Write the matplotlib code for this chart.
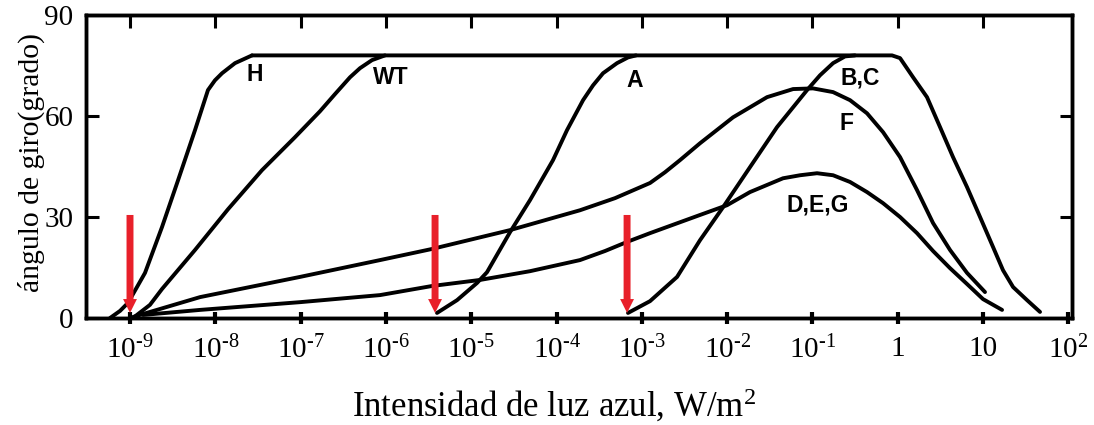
import numpy as np
import matplotlib
matplotlib.use("Agg")
import matplotlib.pyplot as plt

plt.rcParams['font.family'] = ['Liberation Serif', 'DejaVu Serif']
plt.rcParams['mathtext.fontset'] = 'custom'
plt.rcParams['mathtext.rm'] = 'Liberation Serif'
plt.rcParams['mathtext.it'] = 'Liberation Serif:italic'

# curves: log10(intensity in W/m2) and turning angle (deg)
h_logI = [-9.234, -9.117, -9.023, -8.824, -8.625, -8.437, -8.238, -8.086, -8.004, -7.921, -7.769, -7.570]
h_deg = [0.0, 2.1, 4.5, 13.4, 27.0, 40.9, 55.8, 67.7, 70.6, 72.7, 75.7, 78.0]

wt_logI = [-8.965, -8.766, -8.625, -8.238, -7.851, -7.453, -7.066, -6.773, -6.597, -6.421, -6.304, -6.163, -6.011]
wt_deg = [0.0, 3.9, 8.6, 20.2, 32.3, 43.9, 53.7, 61.4, 66.5, 71.5, 74.2, 76.6, 78.0]

a_logI = [-5.401, -5.166, -4.932, -4.815, -4.545, -4.311, -4.041, -3.877, -3.689, -3.572, -3.455, -3.291, -3.162, -3.068]
a_deg = [1.5, 5.3, 10.4, 13.6, 25.5, 35.0, 46.9, 55.8, 64.7, 69.1, 72.7, 75.7, 77.4, 78.0]

bc_logI = [-3.162, -2.904, -2.587, -2.318, -2.048, -1.732, -1.415, -1.063, -0.911, -0.758, -0.618, -0.501]
bc_deg = [1.5, 5.0, 12.2, 23.1, 32.9, 44.8, 56.7, 67.7, 72.1, 75.7, 77.7, 78.0]

# saturation plateau shared by H, WT, A, B,C and its decline at high intensity
top_logI = [-7.570, -0.067, 0.027, 0.180, 0.343, 0.496, 0.648, 0.812, 0.965, 1.117, 1.234, 1.352, 1.516, 1.668]
top_deg = [78.0, 78.0, 77.2, 71.5, 65.6, 56.7, 47.8, 38.9, 30.0, 21.1, 14.2, 9.2, 5.3, 1.8]

f_logI = [-8.965, -8.179, -7.007, -6.069, -5.460, -4.545, -3.725, -3.314, -2.904, -2.728, -2.552, -2.318,
          -1.931, -1.532, -1.227, -0.993, -0.758, -0.559, -0.360, -0.172, 0.027, 0.226, 0.414, 0.613,
          0.812, 1.023]
f_deg = [0.3, 6.2, 12.2, 17.2, 20.5, 26.1, 32.0, 35.6, 40.1, 43.3, 46.9, 51.9,
         59.6, 65.6, 68.0, 68.2, 67.1, 64.7, 60.8, 55.2, 47.8, 38.0, 28.2, 20.2,
         13.4, 7.7]

deg_logI = [-8.848, -8.179, -7.007, -6.069, -5.460, -4.897, -4.311, -3.725, -3.431, -3.173, -2.904, -2.318,
            -2.001, -1.732, -1.345, -1.145, -0.946, -0.758, -0.559, -0.360, -0.172, 0.027, 0.226, 0.414,
            0.613, 0.812, 1.000, 1.223]
deg_deg = [0.9, 2.4, 4.7, 6.8, 9.5, 11.3, 13.9, 17.2, 19.9, 22.6, 25.2, 30.6,
           33.5, 37.4, 41.5, 42.4, 43.0, 42.4, 40.4, 37.4, 34.1, 30.0, 25.2, 19.9,
           14.8, 10.1, 5.6, 2.4]

curve_labels = ['H', 'WT', 'A', 'B,C', 'F', 'D,E,G']
label_logI = [-7.535, -5.94, -3.08, -0.442, -0.606, -0.934]
label_deg = [72.4, 71.5, 70.6, 71.2, 57.9, 33.5]

arrow_logI = [-9.0, -5.424, -3.173]
arrow_top, arrow_tip = 30.6, 1.5

xtick_exp = [-9, -8, -7, -6, -5, -4, -3, -2, -1, 0, 1, 2]
xtick_text = [r'$10^{\text{-9}}$', r'$10^{\text{-8}}$', r'$10^{\text{-7}}$', r'$10^{\text{-6}}$',
              r'$10^{\text{-5}}$', r'$10^{\text{-4}}$', r'$10^{\text{-3}}$', r'$10^{\text{-2}}$',
              r'$10^{\text{-1}}$', '1', '10', r'$10^{2}$']
yticks = [0, 30, 60, 90]

fig = plt.figure(figsize=(10.94, 4.25), dpi=100)
ax = fig.add_axes([0.0786, 0.2518, 0.9013, 0.7129])

lw = 2.8
for lx, dg in [(h_logI, h_deg), (wt_logI, wt_deg), (a_logI, a_deg), (bc_logI, bc_deg),
               (top_logI, top_deg), (f_logI, f_deg), (deg_logI, deg_deg)]:
    ax.plot(10.0 ** np.array(lx), dg, color='black', lw=lw,
            solid_joinstyle='round', solid_capstyle='round')

for txt, lx, dg in zip(curve_labels, label_logI, label_deg):
    ax.text(10.0 ** lx, dg, txt, ha='center', va='center', fontsize=16.5,
            fontweight='bold', family='Liberation Sans')

for lx in arrow_logI:
    ax.annotate('', xy=(10.0 ** lx, arrow_tip), xytext=(10.0 ** lx, arrow_top),
                arrowprops=dict(arrowstyle='simple,head_width=1.0,head_length=1.0,tail_width=0.5',
                                mutation_scale=10, color='#e8202a', lw=0,
                                shrinkA=0, shrinkB=0))

xlim = (10 ** -9.516, 10 ** 2.043)
ax.set_xscale('log')
ax.set_xlim(*xlim)
ax.set_ylim(0, 90)
ax.set_xticks([10.0 ** e for e in xtick_exp])
ax.set_xticklabels(xtick_text, fontsize=21)
ax.minorticks_off()
ax.set_yticks(yticks)
ax.set_yticklabels([str(v) for v in yticks], fontsize=21)

ax.tick_params(axis='x', which='major', direction='inout', length=8, width=3,
               pad=9, top=False)
ax.tick_params(axis='y', which='major', direction='in', length=9, width=2.2,
               pad=9, right=True)
for s in ax.spines.values():
    s.set_linewidth(2.5)

# inward ticks along the top edge
ax_top = ax.twiny()
ax_top.set_xscale('log')
ax_top.set_xlim(*xlim)
ax_top.set_xticks([10.0 ** e for e in xtick_exp[:-1]])
ax_top.minorticks_off()
ax_top.tick_params(axis='x', direction='in', length=9.5, width=2.2, labeltop=False)
for s in ax_top.spines.values():
    s.set_linewidth(2.5)

ax.set_xlabel('Intensidad de luz azul, W/m$^{2}$', fontsize=25)
ax.xaxis.set_label_coords(0.475, -0.3267)
ax.xaxis.label.set_verticalalignment('baseline')
ax.set_ylabel('ángulo de giro(grado)', fontsize=21.3)
ax.yaxis.set_label_coords(-0.042, 0.512)

fig.savefig('out.png', dpi=100)
